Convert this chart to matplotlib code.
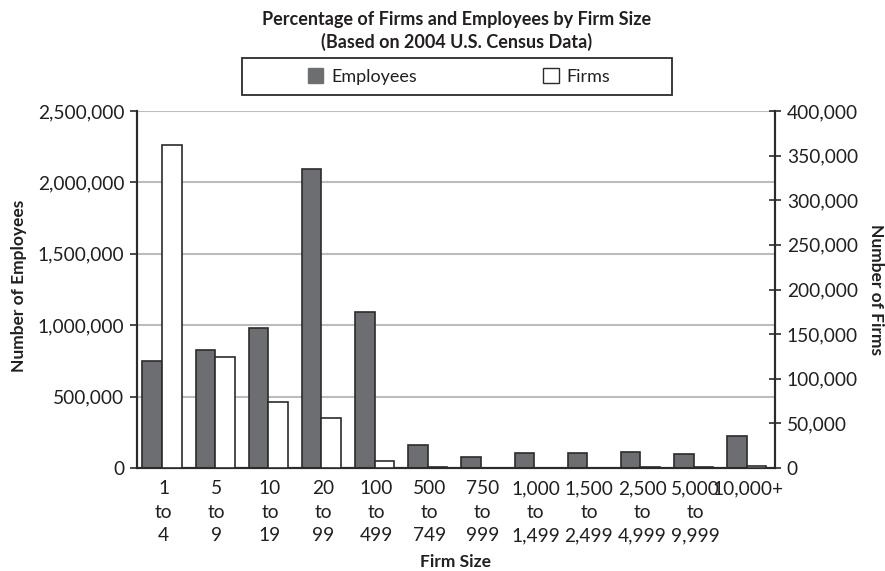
import matplotlib
matplotlib.use("Agg")
import matplotlib.pyplot as plt
from matplotlib.patches import Rectangle, Patch
from matplotlib.ticker import FuncFormatter, MultipleLocator

# Data
size_labels = ["1\nto\n4", "5\nto\n9", "10\nto\n19", "20\nto\n99", "100\nto\n499",
               "500\nto\n749", "750\nto\n999", "1,000\nto\n1,499", "1,500\nto\n2,499",
               "2,500\nto\n4,999", "5,000\nto\n9,999", "10,000+"]
employees = [751000, 824000, 978000, 2094000, 1095000, 159000,
             77000, 107000, 107000, 114000, 96000, 222000]
firms = [361600, 124000, 73600, 55700, 8200, 800,
         400, 300, 300, 1000, 800, 2600]

plt.rcParams['font.family'] = ['Lato', 'DejaVu Sans']
text_col = "#231f20"
emp_col = "#6d6e71"
edge_col = "#2b2b2b"
tick_fs = 13.8
label_fs = 12.5

fig = plt.figure(figsize=(8.85, 5.71), dpi=100)
ax = fig.add_axes([137/885, 103/571, 638/885, 357/571])
ax2 = ax.twinx()

x = list(range(len(size_labels)))
w = 0.367
ax.bar([i - w/2 - 0.03 for i in x], employees, width=w, color=emp_col,
       edgecolor=edge_col, linewidth=1.2, zorder=3)
ax2.bar([i + w/2 - 0.03 for i in x], firms, width=w, color="white",
        edgecolor=edge_col, linewidth=1.2, zorder=3)

ax.set_xlim(-0.5, len(size_labels) - 0.5)
ax.set_ylim(0, 2500000)
ax2.set_ylim(0, 400000)
ax.yaxis.set_major_locator(MultipleLocator(500000))
ax2.yaxis.set_major_locator(MultipleLocator(50000))
fmt = FuncFormatter(lambda v, p: f"{v:,.0f}")
ax.yaxis.set_major_formatter(fmt)
ax2.yaxis.set_major_formatter(fmt)

ax.grid(axis='y', color="#bcbcbe", linewidth=1.5, zorder=0)
ax.set_axisbelow(True)

ax.set_xticks(x)
ax.set_xticklabels(size_labels, linespacing=1.45)
ax.tick_params(axis='x', length=0, pad=9, labelsize=tick_fs, labelcolor=text_col)
ax.tick_params(axis='y', direction='out', length=5, width=1.2, color=edge_col,
               labelsize=tick_fs, labelcolor=text_col, pad=4)
ax2.tick_params(axis='y', direction='inout', length=9, width=1.2, color=edge_col,
                labelsize=tick_fs, labelcolor=text_col, pad=4)

for a in (ax, ax2):
    a.spines['top'].set_visible(False)
    for s in ('left', 'right', 'bottom'):
        a.spines[s].set_color(edge_col)
        a.spines[s].set_linewidth(1.5)

ax.set_ylabel("Number of Employees", fontsize=label_fs, fontweight='bold', color=text_col)
ax.yaxis.set_label_coords(-0.172, 0.51)
ax2.set_ylabel("Number of Firms", fontsize=label_fs, fontweight='bold', color=text_col,
               rotation=270, va='center')
ax2.yaxis.set_label_coords(1.158, 0.5)
ax.set_xlabel("Firm Size", fontsize=label_fs, fontweight='bold', color=text_col,
              va='center')
ax.xaxis.set_label_coords(0.5, -0.263)

fig.text(457/885, 1 - 19/571, "Percentage of Firms and Employees by Firm Size",
         ha='center', va='center', fontsize=13, fontweight='bold', color=text_col)
fig.text(457/885, 1 - 42/571, "(Based on 2004 U.S. Census Data)",
         ha='center', va='center', fontsize=13, fontweight='bold', color=text_col)

# legend with its own box
handles = [Patch(facecolor=emp_col, edgecolor=emp_col),
           Patch(facecolor="white", edgecolor=edge_col, linewidth=1)]
fig.legend(handles, ["Employees", "Firms"], loc='center', ncol=2,
           bbox_to_anchor=(459/885, 1 - 76.5/571), frameon=False, fontsize=13,
           handlelength=0.85, handleheight=0.85, handletextpad=0.45,
           columnspacing=7.0, labelcolor=text_col)
fig.patches.append(Rectangle((242/885, 1 - 95/571), 430/885, 37/571,
                             transform=fig.transFigure, fill=False,
                             edgecolor=edge_col, linewidth=1.3))

fig.savefig("out.png", dpi=100)
